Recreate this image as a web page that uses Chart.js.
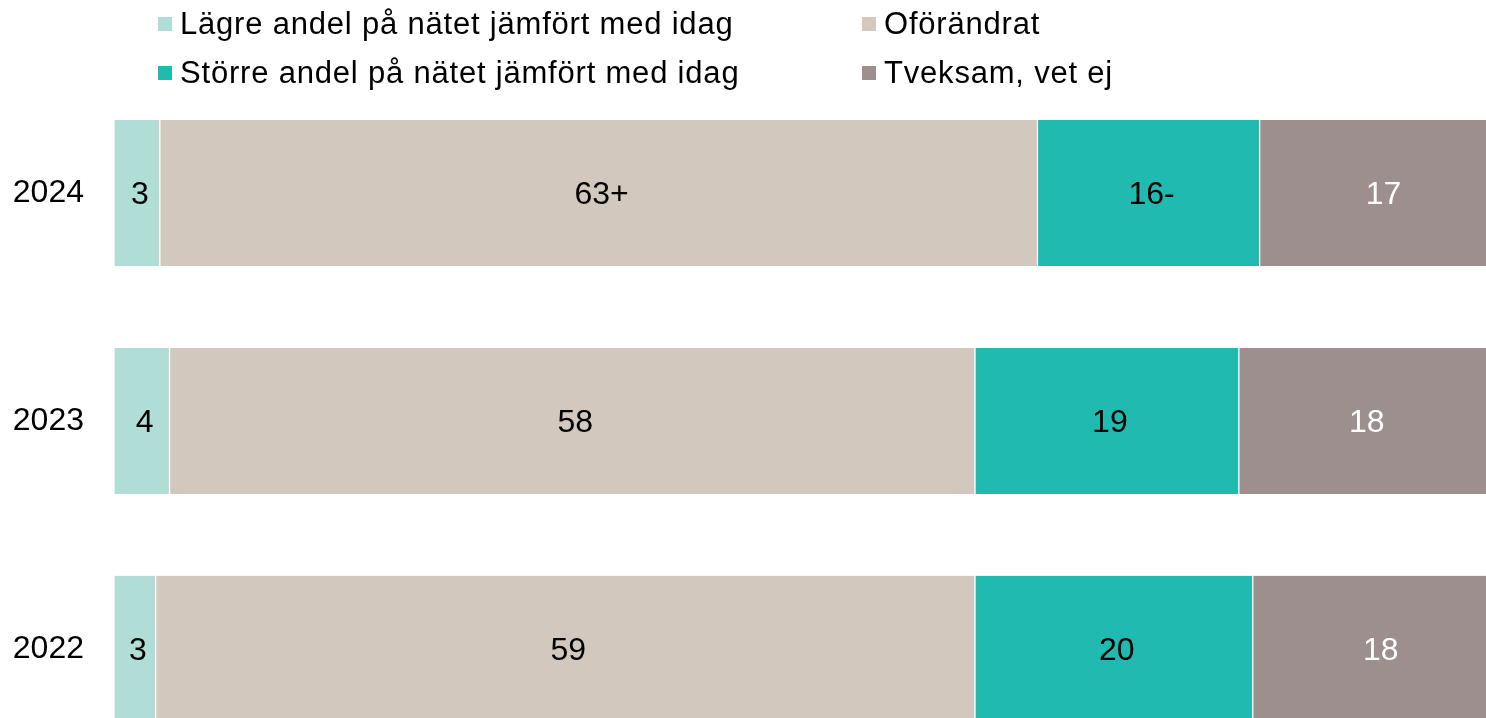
<!DOCTYPE html>
<html>
<head>
<meta charset="utf-8">
<script src="https://cdn.jsdelivr.net/npm/chart.js@4"></script>
<style>
  html, body { margin: 0; padding: 0; background: #fff; overflow: hidden; }
  body { width: 1486px; height: 718px; position: relative; font-family: "Liberation Sans", sans-serif; }
  /* taller than the window: the last bar runs off the bottom edge */
  #chart-wrap { position: absolute; left: 0; top: 0; width: 1486px; height: 812px; }
  .legend-item { position: absolute; display: flex; align-items: center; height: 34px; font-size: 31px; letter-spacing: 0.8px; line-height: 34px; color: #000; white-space: nowrap; }
  .legend-box { width: 14px; height: 14px; margin-right: 8px; }
</style>
</head>
<body>
<div id="chart-wrap"><canvas id="bars"></canvas></div>
<div id="legend"></div>
<script>
// Categories (top to bottom)
const years = ["2024", "2023", "2022"];

// Series names and colours
const seriesNames = [
  "Lägre andel på nätet jämfört med idag",
  "Oförändrat",
  "Större andel på nätet jämfört med idag",
  "Tveksam, vet ej",
];
const seriesColors = ["#b0ddd6", "#d3c8bd", "#21bab0", "#9c8f8e"];

// Segment values (percent)
const lagre = [3.3, 4.0, 3.0];
const oforandrat = [63.2, 58.0, 59.0];
const storre = [16.0, 19.0, 20.0];
const tveksam = [17.4, 18.0, 18.0];

// Printed labels inside the bars (+/- = significant change)
const lagreLabels = ["3", "4", "3"];
const oforandratLabels = ["63+", "58", "59"];
const storreLabels = ["16-", "19", "20"];
const tveksamLabels = ["17", "18", "18"];

const labelColors = ["#000", "#000", "#000", "#fff"];

// the original picture is cut off on the right, so the axis stops short of 100
const xMax = 98.8;

// Build legend (two columns)
const legendPos = [
  { left: 158, top: 7 },
  { left: 862, top: 7 },
  { left: 158, top: 56 },
  { left: 862, top: 56 },
];
const legend = document.getElementById("legend");
seriesNames.forEach((name, i) => {
  const item = document.createElement("div");
  item.className = "legend-item";
  item.style.left = legendPos[i].left + "px";
  item.style.top = legendPos[i].top + "px";
  item.innerHTML = '<span class="legend-box" style="background:' + seriesColors[i] + '"></span><span>' + name + "</span>";
  legend.appendChild(item);
});

const allValues = [lagre, oforandrat, storre, tveksam];
const allLabels = [lagreLabels, oforandratLabels, storreLabels, tveksamLabels];

// Simple label plugin - write text in the middle of each segment
const barLabels = {
  id: "barLabels",
  afterDatasetsDraw(chart) {
    const ctx = chart.ctx;
    ctx.save();
    ctx.font = '32px "Liberation Sans"';
    ctx.textAlign = "center";
    ctx.textBaseline = "middle";
    chart.data.datasets.forEach((ds, di) => {
      const meta = chart.getDatasetMeta(di);
      meta.data.forEach((bar, i) => {
        ctx.fillStyle = labelColors[di];
        ctx.fillText(allLabels[di][i], (bar.x + bar.base) / 2 + 3, bar.y + 2);
      });
    });
    ctx.restore();
  },
};

const ctx = document.getElementById("bars").getContext("2d");

new Chart(ctx, {
  type: "bar",
  data: {
    labels: years,
    datasets: seriesNames.map((name, i) => ({
      label: name,
      data: allValues[i],
      backgroundColor: seriesColors[i],
      borderColor: "#ffffff",
      borderWidth: { left: 1, right: 1, top: 0, bottom: 0 },
      borderSkipped: false,
      barThickness: 146,
    })),
  },
  options: {
    indexAxis: "y",
    responsive: true,
    maintainAspectRatio: false,
    animation: false,
    layout: { padding: { top: 79, right: 0, bottom: 0, left: 0 } },
    plugins: {
      legend: { display: false },
      tooltip: { enabled: false },
    },
    scales: {
      x: {
        stacked: true,
        min: 0,
        max: xMax,
        display: false,
      },
      y: {
        stacked: true,
        grid: { display: false, drawTicks: false },
        border: { display: false },
        ticks: {
          color: "#000",
          font: { family: "Liberation Sans", size: 32 },
          padding: 30,
        },
        afterFit(scale) {
          scale.width = 114;
        },
      },
    },
  },
  plugins: [barLabels],
});
</script>
</body>
</html>
